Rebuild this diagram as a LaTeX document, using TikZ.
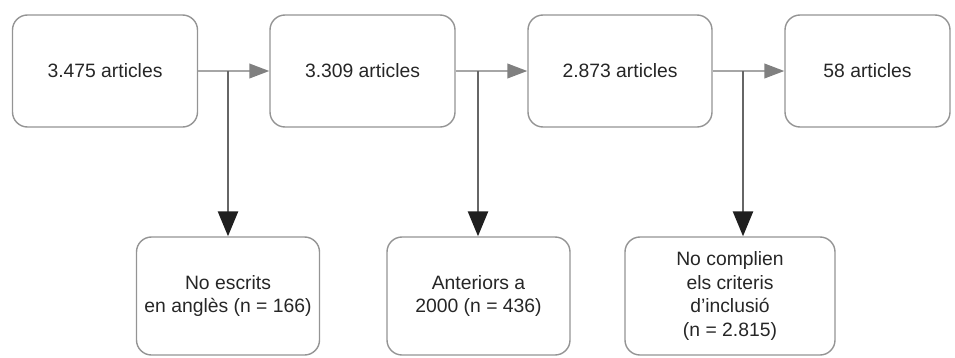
\documentclass[tikz,border=0pt]{standalone}
\usepackage{fontspec}
\setmainfont{Liberation Sans}
\usetikzlibrary{arrows.meta}
\begin{document}
\begin{tikzpicture}[
  x=0.03cm, y=-0.03cm,
  line join=round,
  box/.style={draw=black!42, line width=1.2pt, rounded corners=0.45cm,
    minimum height=3.36cm, align=center, inner sep=2pt,
    font=\fontsize{16.5}{20}\selectfont, text=black!85},
  lowbox/.style={box, minimum height=3.54cm},
  flow/.style={draw=black!35, line width=1.6pt,
    -{Triangle[length=0.6cm, width=0.44cm, fill=black!50, color=black!50]}},
  drop/.style={draw=black!60, line width=2.2pt,
    -{Triangle[length=0.75cm, width=0.6cm, fill=black!88, color=black!88]}},
]
\useasboundingbox (0,0) rectangle (955,357);

% ── the main line ─────────────────────────────────────────────────────────
\foreach \n/\x/\w/\t in {%
  t1/105/5.55/3.475 articles,
  t2/362.5/5.55/3.309 articles,
  t3/620/5.52/2.873 articles,
  t4/867.5/4.95/58 articles%
} { \node[box, minimum width=\w cm] (\n) at (\x,71) {\t}; }

% ── the exclusions ────────────────────────────────────────────────────────
\node[lowbox, minimum width=5.49cm] (b1) at (228,296)
  {No escrits\\en anglès (n = 166)};
\node[lowbox, minimum width=5.49cm] (b2) at (478.5,296)
  {Anteriors a\\2000 (n = 436)};
\node[lowbox, minimum width=6.3cm] (b3) at (730,296)
  {No complien\\els criteris\\d’inclusió\\(n = 2.815)};

% ── the arrows ────────────────────────────────────────────────────────────
\draw[flow] (t1) -- (t2);
\draw[flow] (t2) -- (t3);
\draw[flow] (t3) -- (t4);

\coordinate (j1) at (228,71);
\coordinate (j2) at (478,71);
\coordinate (j3) at (743,71);
\draw[drop] (j1) -- (j1 |- b1.north);
\draw[drop] (j2) -- (j2 |- b2.north);
\draw[drop] (j3) -- (j3 |- b3.north);

\end{tikzpicture}
\end{document}
